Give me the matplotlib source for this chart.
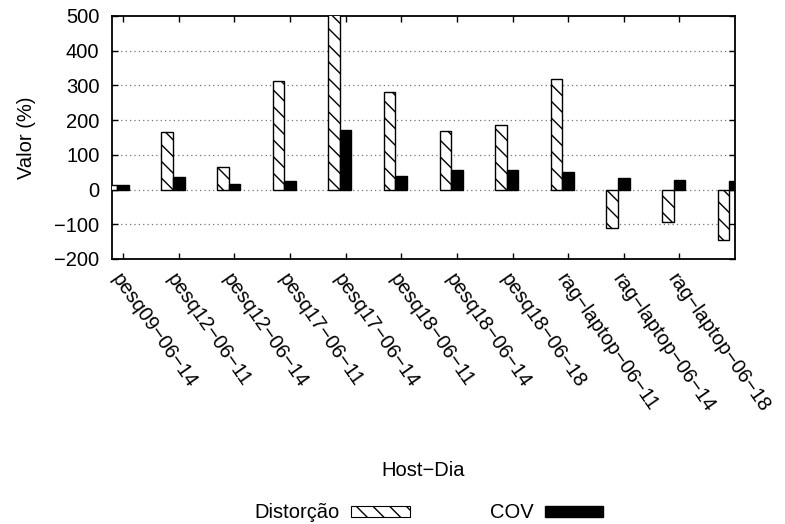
import matplotlib
matplotlib.use("Agg")
import matplotlib.pyplot as plt
from matplotlib.patches import Patch
import numpy as np

plt.rcParams['font.family'] = ['Liberation Sans', 'DejaVu Sans']
plt.rcParams['hatch.linewidth'] = 1.0

M = '\u2212'
tick_labels = ['pesq09-06-14', 'pesq12-06-11', 'pesq12-06-14', 'pesq17-06-11',
               'pesq17-06-14', 'pesq18-06-11', 'pesq18-06-14', 'pesq18-06-18',
               'rag-laptop-06-11', 'rag-laptop-06-14', 'rag-laptop-06-18']
distorcao = [12, 166, 65, 313, 530, 281, 169, 186, 318, -111, -93, -145]
cov = [14, 37, 16, 26, 172, 38, 57, 57, 50, 34, 29, 26]
yticks = [-200, -100, 0, 100, 200, 300, 400, 500]

FS = 14.5
fig = plt.figure(figsize=(7.85, 5.24), dpi=100)
ax = fig.add_axes([112/785, 1-259/524, (735-112)/785, (259-16)/524])

x = np.arange(len(distorcao))
w = 0.207
ax.bar(x - w, distorcao, width=w, align='center', facecolor='white',
       edgecolor='black', linewidth=1.0, hatch='\\\\', zorder=3)
ax.bar(x, cov, width=w, align='center', facecolor='black',
       edgecolor='black', linewidth=1.0, zorder=3)

ax.set_xlim(-0.2, 11.0)
ax.set_ylim(-200, 500)
ax.set_yticks(yticks)
ax.set_yticklabels([str(v).replace('-', M) for v in yticks], fontsize=FS)
ax.set_xticks(np.arange(len(tick_labels)))
ax.set_xticklabels([t.replace('-', M) for t in tick_labels], fontsize=FS,
                   rotation=-55, ha='left', va='top', rotation_mode='anchor')
ax.tick_params(axis='both', direction='in', length=4, width=1,
               top=True, right=True)
ax.tick_params(axis='y', pad=9)
ax.tick_params(axis='x', pad=8)

for v in yticks[1:-1]:
    ax.axhline(v, color='0.45', linewidth=0.9, linestyle=(0, (1, 2.5)), zorder=1)

for s in ax.spines.values():
    s.set_linewidth(1.3)

ax.set_ylabel('Valor (%)', fontsize=FS, labelpad=13)
fig.text((112+735)/2/785, 1-470/524, 'Host' + M + 'Dia', fontsize=FS,
         ha='center', va='center')

handles = [Patch(facecolor='white', edgecolor='black', hatch='\\\\', linewidth=0.8),
           Patch(facecolor='black', edgecolor='black')]
fig.legend(handles, ['Distorção', 'COV'], loc='center',
           bbox_to_anchor=(0.5465, 1-513/524), ncol=2, frameon=False,
           markerfirst=False, fontsize=FS, handlelength=2.9,
           handleheight=0.45, columnspacing=4.0, handletextpad=0.55)

fig.savefig('out.png', dpi=100)
